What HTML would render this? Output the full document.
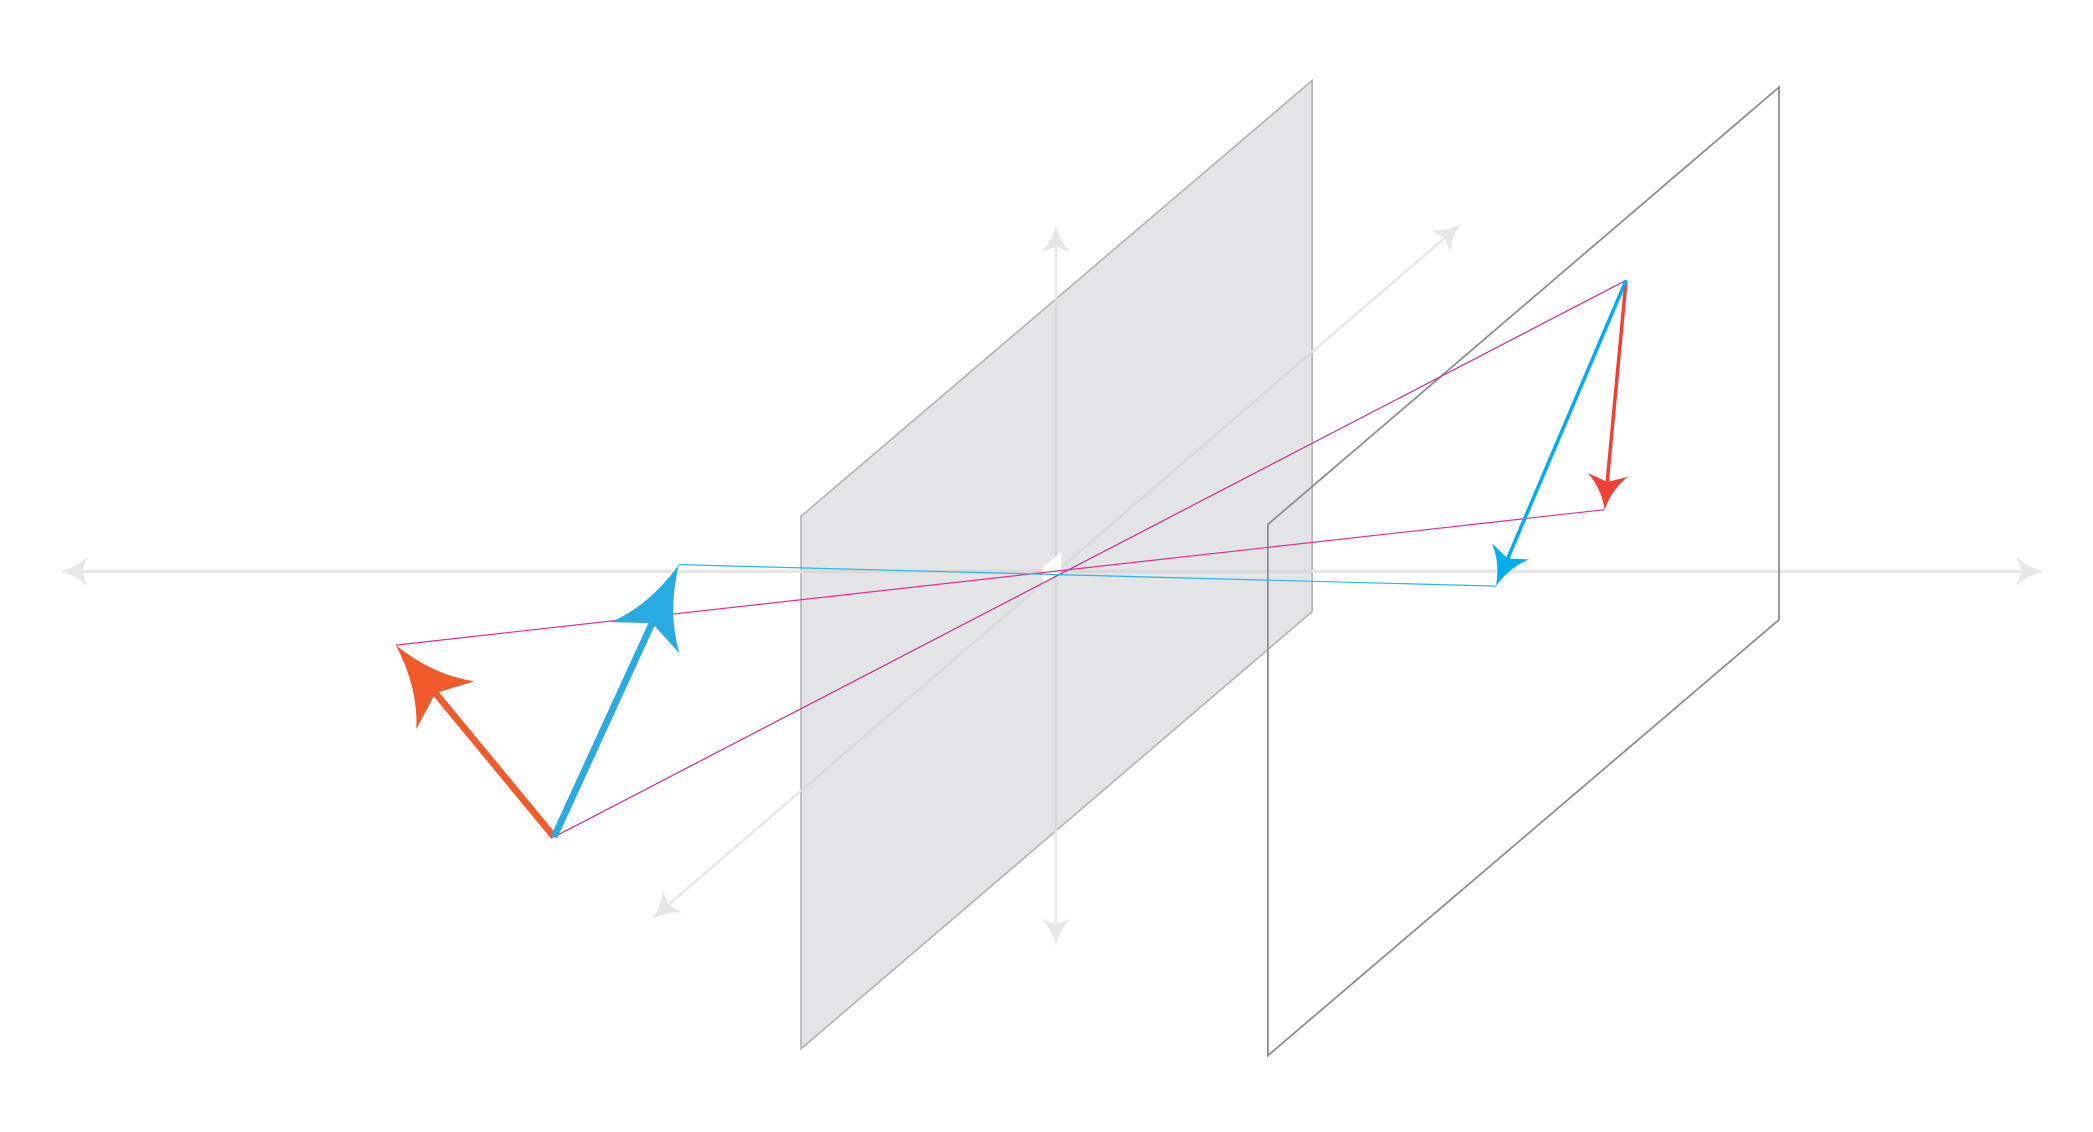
<!DOCTYPE html>
<html><head><meta charset="utf-8"><style>
html,body{margin:0;padding:0;background:#fff;}
svg{display:block;}
</style></head><body>
<svg id="scene" width="2093" height="1132" viewBox="0 0 1560 844" preserveAspectRatio="none" xmlns="http://www.w3.org/2000/svg">
  <defs><clipPath id="planeClip"><polygon points="597,385 978,60 978,456 597,782"/></clipPath></defs>
  <polygon points="597,385 978,60 978,456 597,782" fill="#e3e4e5" stroke="#b3b3b3" stroke-width="1.2"/>
  <g id="axes"></g>
  <g id="axesIn" clip-path="url(#planeClip)"></g>
  <polygon points="791,412 791,425 777,436 777,423" fill="#ffffff"/>
  <polygon points="945,391 1326,65 1326,462 945,787" fill="none" stroke="#8c8c8c" stroke-width="1.3"/>
  <g id="rays"></g>
  <g id="vecs"></g>
</svg>
<script>
// axis lines
const axisStarts = [[45,426],[787,705],[486,685]];
const axisEnds = [[1523,426],[787,168],[1089,167]];
// projection rays
const rayStarts = [[295,481],[413,624],[506,421]];
const rayEnds = [[1196,380],[1212,209],[1115,437]];
const rayColors = ['#ec2a8f','#c9318f','#29b6ea'];
// vectors
const arrowStarts = [[413,624],[413,624],[1212,209],[1212,209]];
const arrowEnds = [[295,481],[506,421],[1196,380],[1115,437]];
const arrowColors = ['#f15a2b','#29abe2','#ef4136','#00aeef'];
const arrowWidths = [5,5,2.6,2.6];
const arrowHeadLen = [58,60,26,28];
const arrowHeadW = [28,28,15,15];
const arrowNames = ['orange-vector','blue-vector','red-projected-vector','blue-projected-vector'];

const NS='http://www.w3.org/2000/svg';
function mk(tag,attrs,parent){const e=document.createElementNS(NS,tag);for(const k in attrs)e.setAttribute(k,attrs[k]);parent.appendChild(e);return e;}
function headPath(tx,ty,dx,dy,L,W){
  const nx=-dy,ny=dx;
  const bx1=tx-L*dx+W*nx, by1=ty-L*dy+W*ny;
  const bx2=tx-L*dx-W*nx, by2=ty-L*dy-W*ny;
  const mx=tx-0.8*L*dx, my=ty-0.8*L*dy;
  const c1x=tx-0.6*L*dx+0.25*W*nx, c1y=ty-0.6*L*dy+0.25*W*ny;
  const c2x=tx-0.6*L*dx-0.25*W*nx, c2y=ty-0.6*L*dy-0.25*W*ny;
  return `M${tx},${ty} Q${c1x},${c1y} ${bx1},${by1} L${mx},${my} L${bx2},${by2} Q${c2x},${c2y} ${tx},${ty} Z`;
}
const axesG=document.getElementById('axes');
const axesIn=document.getElementById('axesIn');
for(let i=0;i<axisStarts.length;i++){
  const [x1,y1]=axisStarts[i],[x2,y2]=axisEnds[i];
  const len=Math.hypot(x2-x1,y2-y1),dx=(x2-x1)/len,dy=(y2-y1)/len;
  const sw=i===0?2.4:1.8;
  const l=mk('line',{x1:x1+12*dx,y1:y1+12*dy,x2:x2-12*dx,y2:y2-12*dy,stroke:'#e6e6e6','stroke-width':sw},axesG);
  
  
  const l2=mk('line',{x1:x1,y1:y1,x2:x2,y2:y2,stroke:'#d8d9da','stroke-width':sw},axesIn);
  
  
  const h1=mk('path',{d:headPath(x2,y2,dx,dy,20,11),fill:'#e6e6e6'},axesG);
  
  
  const h2=mk('path',{d:headPath(x1,y1,-dx,-dy,20,11),fill:'#e6e6e6'},axesG);
  
  
}
const raysG=document.getElementById('rays');
for(let i=0;i<rayStarts.length;i++){
  const r=mk('line',{x1:rayStarts[i][0],y1:rayStarts[i][1],x2:rayEnds[i][0],y2:rayEnds[i][1],stroke:rayColors[i],'stroke-width':0.9},raysG);
  
  
}
const vecG=document.getElementById('vecs');
for(let i=0;i<arrowStarts.length;i++){
  const [x1,y1]=arrowStarts[i],[x2,y2]=arrowEnds[i];
  const len=Math.hypot(x2-x1,y2-y1),dx=(x2-x1)/len,dy=(y2-y1)/len;
  const L=arrowHeadLen[i];
  const g=mk('g',{},vecG);
  
  
  const s=mk('line',{x1:x1,y1:y1,x2:x2-0.7*L*dx,y2:y2-0.7*L*dy,stroke:arrowColors[i],'stroke-width':arrowWidths[i]},g);
  
  
  const h=mk('path',{d:headPath(x2,y2,dx,dy,L,arrowHeadW[i]),fill:arrowColors[i]},g);
  
  
}
</script>
</body></html>
